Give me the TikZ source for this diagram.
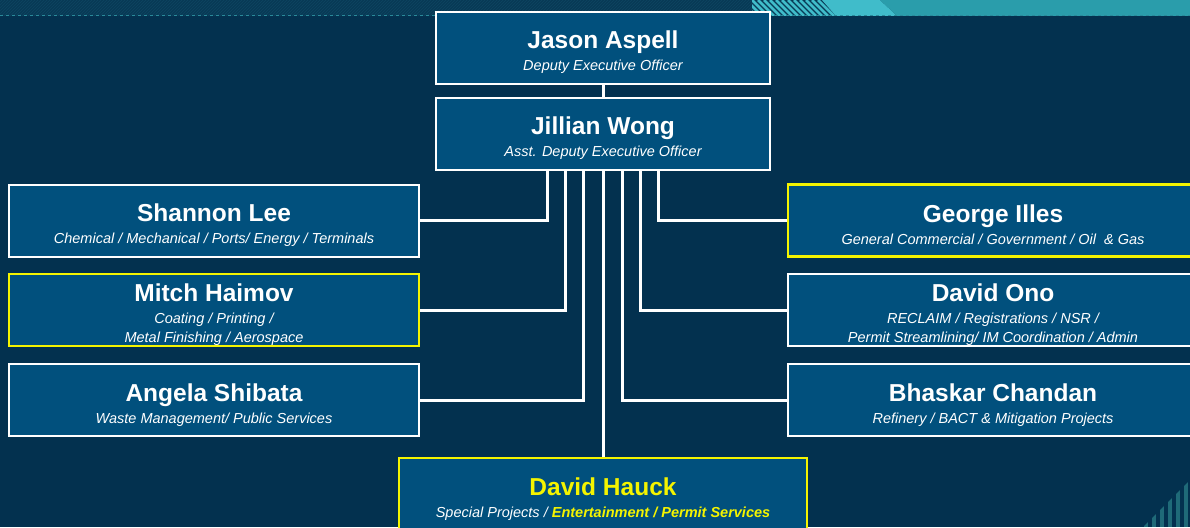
\documentclass[tikz,border=0pt]{standalone}
\usepackage{fontspec}
\setmainfont{Liberation Sans}
\usetikzlibrary{patterns}
\definecolor{darknavy}{HTML}{03314F}
\definecolor{boxblue}{HTML}{01507D}
\definecolor{markyellow}{HTML}{F4F400}
\definecolor{bandnavy}{HTML}{083A56}
\definecolor{bandstripe}{HTML}{0E4662}
\definecolor{tealband}{HTML}{2A9DAB}
\definecolor{lightteal}{HTML}{40BCCA}
\definecolor{tealdash}{HTML}{2A8A9A}
\definecolor{cornerteal}{HTML}{1F6A78}
\newcommand{\bossname}[1]{{\fontsize{24.5}{19}\selectfont\bfseries\rule{0pt}{27pt}#1}}
\newcommand{\bossjob}[1]{{\itshape #1}}

\begin{document}
\begin{tikzpicture}[x=1pt,y=-1pt,
	chief/.style={draw=white,line width=2pt,fill=boxblue,text=white,minimum width=334pt,minimum height=72pt,inner sep=0pt,align=center,font=\fontsize{14.5}{19}\selectfont},
	unit/.style={chief,minimum width=410pt},
	starred/.style={draw=markyellow,line width=2.5pt},
	link/.style={draw=white,line width=3pt}]
	\clip (0,0) rectangle (1190,527);
	\fill[darknavy] (0,0) rectangle (1190,527);
	\fill[bandnavy] (0,0) rectangle (1190,16);
	\fill[pattern=north east lines,pattern color=bandstripe] (0,0) rectangle (755,16);
	\begin{scope}
		\clip (752,0) rectangle (835,16);
		\foreach \s in {740,746,...,830}
			\draw[lightteal,line width=2.5pt] (\s,0) -- (\s+16,16);
	\end{scope}
	\fill[lightteal] (822,0) -- (880,0) -- (897,16) -- (836,16) -- cycle;
	\fill[tealband] (880,0) -- (1190,0) -- (1190,16) -- (897,16) -- cycle;
	\draw[tealdash,dashed,line width=1pt] (0,16) -- (1190,16);
	\begin{scope}
		\clip (1143,527) -- (1190,480) -- (1190,527) -- cycle;
		\foreach \s in {1146,1154,...,1190}
			\draw[cornerteal,line width=4pt] (\s,470) -- (\s,527);
	\end{scope}
	\node[chief] (aspell) at (603,48) {\bossname{Jason Aspell}\\[3pt]\bossjob{Deputy Executive Officer}};
	\node[chief] (wong) at (603,134) {\bossname{Jillian Wong}\\[3pt]\bossjob{Asst. Deputy Executive Officer}};
	\node[unit] (lee) at (214,220.5) {\bossname{Shannon Lee}\\[3pt]\bossjob{Chemical / Mechanical / Ports/ Energy / Terminals}};
	\node[unit,starred] (haimov) at (214,310) {\bossname{Mitch Haimov}\\[3pt]\bossjob{Coating / Printing /}\\\bossjob{Metal Finishing / Aerospace}};
	\node[unit] (shibata) at (214,400) {\bossname{Angela Shibata}\\[3pt]\bossjob{Waste Management/ Public Services}};
	\node[unit,starred] (illes) at (993,220.5) {\bossname{George Illes}\\[3pt]\bossjob{General Commercial / Government / Oil \ \& Gas}};
	\node[unit] (ono) at (993,310) {\bossname{David Ono}\\[3pt]\bossjob{RECLAIM / Registrations / NSR /}\\\bossjob{Permit Streamlining/ IM Coordination / Admin}};
	\node[unit] (chandan) at (993,400) {\bossname{Bhaskar Chandan}\\[3pt]\bossjob{Refinery / BACT \& Mitigation Projects}};
	\node[unit,starred,minimum width=408pt] (hauck) at (603,494) {\textcolor{markyellow}{\bossname{David Hauck}}\\[3pt]\bossjob{Special Projects / \textcolor{markyellow}{\bfseries Entertainment / Permit Services}}};
	\draw[link] (aspell) -- (wong);
	\draw[link] ([xshift=-56pt]wong.south) |- (lee);
	\draw[link] ([xshift=-38pt]wong.south) |- (haimov);
	\draw[link] ([xshift=-20pt]wong.south) |- (shibata);
	\draw[link] (wong) -- (hauck);
	\draw[link] ([xshift=19pt]wong.south) |- (chandan);
	\draw[link] ([xshift=37pt]wong.south) |- (ono);
	\draw[link] ([xshift=55pt]wong.south) |- (illes);
\end{tikzpicture}
\end{document}
